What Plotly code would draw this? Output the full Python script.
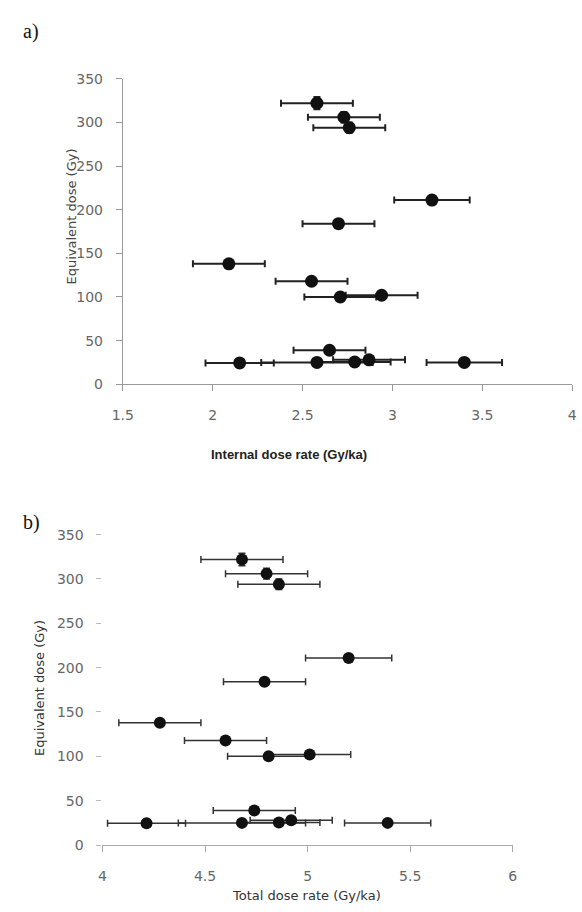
import plotly.graph_objects as go

# ---- data ----
equivalent_dose = [322, 306, 294, 211, 184, 138, 118, 100, 102, 39, 24.5, 25, 25.5, 28, 25]
equivalent_dose_err = [7, 6, 6, 3, 3, 3, 3, 3, 3, 2, 2, 2, 2, 2, 2]
internal_rate = [2.58, 2.73, 2.76, 3.22, 2.70, 2.09, 2.55, 2.71, 2.94, 2.65, 2.15, 2.58, 2.79, 2.87, 3.40]
internal_err = [0.20, 0.20, 0.20, 0.21, 0.20, 0.20, 0.20, 0.20, 0.20, 0.20, 0.19, 0.31, 0.20, 0.20, 0.21]
total_rate = [4.68, 4.80, 4.86, 5.20, 4.79, 4.28, 4.60, 4.81, 5.01, 4.74, 4.215, 4.68, 4.86, 4.92, 5.39]
total_err = [0.20, 0.20, 0.20, 0.21, 0.20, 0.20, 0.20, 0.20, 0.20, 0.20, 0.19, 0.31, 0.20, 0.20, 0.21]

xa_ticks = [1.5, 2, 2.5, 3, 3.5, 4]
xb_ticks = [4, 4.5, 5, 5.5, 6]
y_ticks = [0, 50, 100, 150, 200, 250, 300, 350]

W, H = 582, 912
tickfont = dict(family="DejaVu Sans", size=14, color="#666")

fig = go.Figure()
fig.add_trace(go.Scatter(
    x=internal_rate, y=equivalent_dose, mode="markers",
    marker=dict(color="#111", size=13),
    error_x=dict(type="data", array=internal_err, color="#222", thickness=2, width=3.5),
    error_y=dict(type="data", array=equivalent_dose_err, color="#222", thickness=2, width=3.5),
    xaxis="x", yaxis="y", showlegend=False))
fig.add_trace(go.Scatter(
    x=total_rate, y=equivalent_dose, mode="markers",
    marker=dict(color="#111", size=12),
    error_x=dict(type="data", array=total_err, color="#333", thickness=1.5, width=3.5),
    error_y=dict(type="data", array=equivalent_dose_err, color="#333", thickness=1.5, width=3.5),
    xaxis="x2", yaxis="y2", showlegend=False))

def px(v):
    return v / W

def py(v):
    return 1 - v / H

fig.update_layout(
    width=W, height=H, margin=dict(l=0, r=0, t=0, b=0),
    paper_bgcolor="white", plot_bgcolor="white",
    xaxis=dict(domain=[px(115), px(577)], range=[1.5, 4], tickvals=xa_ticks,
               ticktext=[str(t) for t in xa_ticks], anchor="y",
               showline=True, linecolor="#999", linewidth=1, ticks="outside",
               ticklen=6, tickcolor="#999", showgrid=False, zeroline=False,
               tickfont=tickfont, ticklabelstandoff=12),
    yaxis=dict(domain=[py(383), py(72)], range=[0, 350], tickvals=y_ticks, anchor="x",
               showline=True, linecolor="#999", linewidth=1, ticks="outside",
               ticklen=6, tickcolor="#999", showgrid=False, zeroline=False,
               tickfont=tickfont, ticklabelstandoff=10),
    xaxis2=dict(domain=[px(94), px(516)], range=[4, 6], tickvals=xb_ticks,
                ticktext=[str(t) for t in xb_ticks], anchor="y2",
                showline=True, linecolor="#aaa", linewidth=1, ticks="outside",
                ticklen=6, tickcolor="#aaa", showgrid=False, zeroline=False,
                tickfont=tickfont, ticklabelstandoff=12),
    yaxis2=dict(domain=[py(852), py(536)], range=[0, 350], tickvals=y_ticks, anchor="x2",
                showline=False, ticks="outside", ticklen=5, tickcolor="#bbb",
                showgrid=False, zeroline=False, tickfont=tickfont, ticklabelstandoff=10),
)

ann = [
    dict(text="a)", x=px(10), y=py(24), xanchor="left", yanchor="middle",
         font=dict(family="Liberation Serif", size=20, color="#111")),
    dict(text="b)", x=px(10), y=py(524), xanchor="left", yanchor="middle",
         font=dict(family="Liberation Serif", size=20, color="#111")),
    dict(text="<b>Internal dose rate (Gy/ka)</b>", x=px(286), y=py(454), xanchor="center",
         yanchor="middle", font=dict(family="Liberation Sans", size=13, color="#222")),
    dict(text="Total dose rate (Gy/ka)", x=px(304), y=py(903), xanchor="center",
         yanchor="middle", font=dict(family="DejaVu Sans", size=13, color="#333")),
    dict(text="Equivalent dose (Gy)", x=px(62), y=py(212), xanchor="center",
         yanchor="middle", textangle=-90, font=dict(family="DejaVu Sans", size=13, color="#444")),
    dict(text="Equivalent dose (Gy)", x=px(30), y=py(692), xanchor="center",
         yanchor="middle", textangle=-90, font=dict(family="DejaVu Sans", size=13, color="#333")),
]
for a in ann:
    a.update(xref="paper", yref="paper", showarrow=False)
fig.update_layout(annotations=ann)

fig.write_html("out.html")
